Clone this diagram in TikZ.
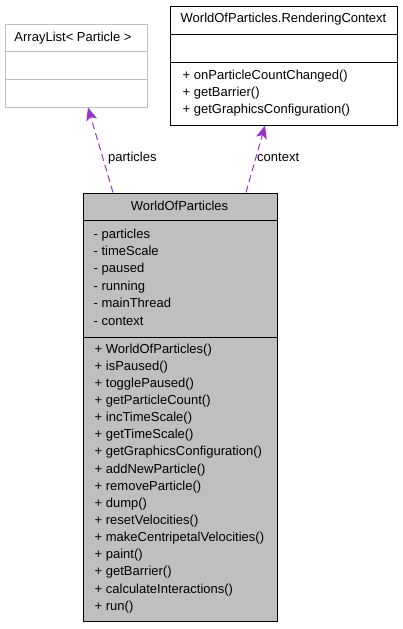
\documentclass[tikz,border=0pt]{standalone}
\usepackage{fontspec}
\setmainfont{Liberation Sans}
\usetikzlibrary{arrows.meta}
\definecolor{boxgray}{HTML}{BFBFBF}
\definecolor{orchid}{HTML}{9A32CD}
\begin{document}
\begin{tikzpicture}[x=1pt,y=-1pt,
  txt/.style={inner sep=0pt, anchor=base west, font=\fontsize{13}{15}\selectfont},
  ctxt/.style={inner sep=0pt, anchor=base, font=\fontsize{13}{15}\selectfont},
  box/.style={draw, inner sep=0pt, anchor=north west, line width=1pt},
  rel/.style={draw=orchid, dash pattern=on 7pt off 4pt, line width=1pt,
    -{Stealth[length=13pt,width=11pt,inset=3pt]}},
]
\useasboundingbox (0,0) rectangle (403,629);

% ArrayList< Particle >
\node[box, draw=boxgray, minimum width=142.5pt, minimum height=83.5pt] (al) at (4.5,23.5) {};
\draw[boxgray, line width=1pt] (4.5,51) -- (147,51);
\draw[boxgray, line width=1pt] (4.5,79) -- (147,79);
\node[ctxt] (alt) at (73,41) {ArrayList< Particle >};

% RenderingContext
\node[box, fill=white, minimum width=227pt, minimum height=119pt] (rc) at (170,6) {};
\draw[line width=1pt] (170,34) -- (397,34);
\draw[line width=1pt] (170,62) -- (397,62);
\node[ctxt] (rct) at (283.5,23) {WorldOfParticles.RenderingContext};
\foreach \t [count=\i] in {onParticleCountChanged(), getBarrier(), getGraphicsConfiguration()}
  \node[txt] (rcm\i) at (182.5, {79.5+17.2*(\i-1)}) {+ \t};

% WorldOfParticles
\node[box, fill=boxgray, minimum width=194pt, minimum height=428pt] (wop) at (83,193) {};
\draw[line width=1pt] (83,220) -- (277,220);
\draw[line width=1pt] (83,337) -- (277,337);
\node[ctxt] (wopt) at (179.5,210.5) {WorldOfParticles};
\foreach \t [count=\i] in {particles, timeScale, paused, running, mainThread, context}
  \node[txt] (wa\i) at (93.5, {238+17.4*(\i-1)}) {- \t};
\foreach \t [count=\i] in {WorldOfParticles(), isPaused(), togglePaused(), getParticleCount(),
  incTimeScale(), getTimeScale(), getGraphicsConfiguration(), addNewParticle(),
  removeParticle(), dump(), resetVelocities(), makeCentripetalVelocities(), paint(),
  getBarrier(), calculateInteractions(), run()}
  \node[txt] (wm\i) at (94.5, {353+17.15*(\i-1)}) {+ \t};

% relations
\coordinate (pT) at (113,192.5);
\coordinate (pH) at (88,107.5);
\coordinate (cT) at (246,192.5);
\coordinate (cH) at (265,125.5);
\draw[rel] (pT) -- (pH);
\draw[rel] (cT) -- (cH);
\node[txt] (lp) at (108,161.5) {particles};
\node[txt] (lc) at (257,161.5) {context};
\end{tikzpicture}
\end{document}
